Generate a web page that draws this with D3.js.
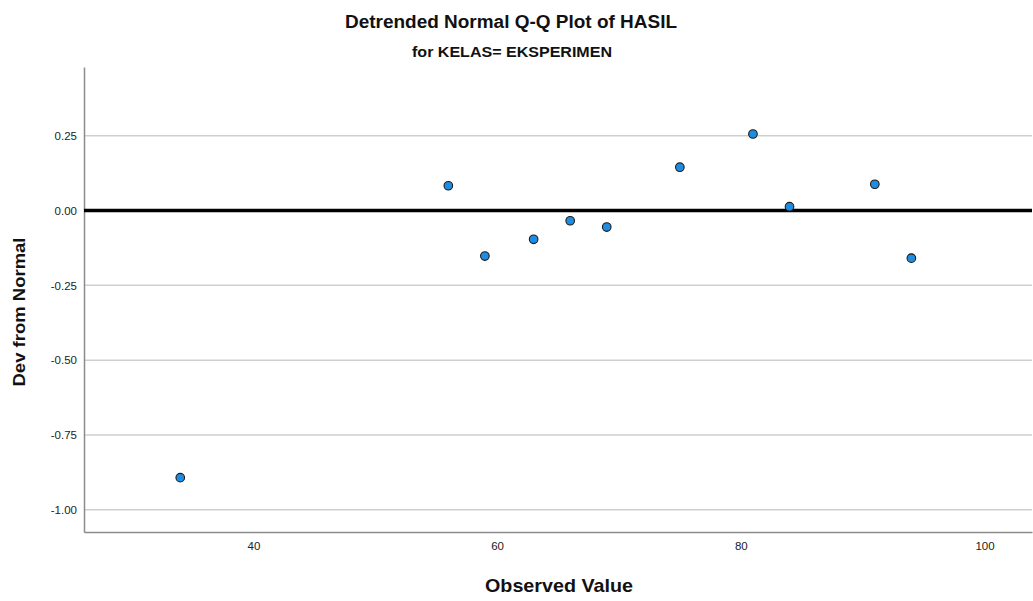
<!DOCTYPE html>
<html><head><meta charset="utf-8">
<script src="https://cdn.jsdelivr.net/npm/d3@7"></script>
<style>body{margin:0;background:#fff}svg{display:block}</style>
</head><body><svg id="c" width="1033" height="601"></svg>
<script>
const observed = [34, 56, 59, 63, 66, 69, 75, 81, 84, 91, 94];
const devFromNormal = [-0.893, 0.083, -0.152, -0.096, -0.034, -0.055, 0.145, 0.256, 0.013, 0.088, -0.159];
const xTicks = [40, 60, 80, 100];
const yTicks = [0.25, 0.00, -0.25, -0.50, -0.75, -1.00];
const titleText = "Detrended Normal Q-Q Plot of HASIL";
const subtitleText = "for KELAS= EKSPERIMEN";
const xLabel = "Observed Value";
const yLabel = "Dev from Normal";

const svg = d3.select("#c");
const L = 84, R = 1032, T = 67, B = 532;
const x = d3.scaleLinear().domain([26.1, 103.9]).range([L, R]);
const y = d3.scaleLinear().domain([-1.0746, 0.48]).range([B, T]);
const fmtY = d => d3.format(".2f")(d).replace("\u2212", "-");

// gridlines
svg.append("g").selectAll("line").data(yTicks.filter(d => d !== 0)).join("line")
  .attr("x1", L).attr("x2", R).attr("y1", d => y(d)).attr("y2", d => y(d))
  .attr("stroke", "#cfcfcf").attr("stroke-width", 1.5);

// axes
const tickFont = "Liberation Sans, Arial, sans-serif";
const yAxis = d3.axisLeft(y).tickValues(yTicks).tickFormat(fmtY).tickSize(0).tickPadding(7);
const gy = svg.append("g").attr("transform", `translate(${L},0)`).call(yAxis);
gy.select(".domain").attr("stroke", "#8c8c8c").attr("stroke-width", 1.5);
gy.selectAll("text").attr("font-family", tickFont).attr("font-size", 11.5).attr("fill", "#222");

const xAxis = d3.axisBottom(x).tickValues(xTicks).tickFormat(d3.format("d")).tickSize(0).tickPadding(10);
const gx = svg.append("g").attr("transform", `translate(0,${B})`).call(xAxis);
gx.select(".domain").attr("stroke", "#8c8c8c").attr("stroke-width", 1.5);
gx.selectAll("text").attr("font-family", tickFont).attr("font-size", 11.5).attr("fill", "#222");

// zero reference line
svg.append("line").attr("x1", L).attr("x2", R).attr("y1", y(0)).attr("y2", y(0))
  .attr("stroke", "#000").attr("stroke-width", 3.5);

// points
svg.append("g").selectAll("circle").data(observed.map((v, i) => [v, devFromNormal[i]])).join("circle")
  .attr("cx", d => x(d[0])).attr("cy", d => y(d[1])).attr("r", 4.3)
  .attr("fill", "#1f8ce0").attr("stroke", "#1a1a1a").attr("stroke-width", 1.1);

// titles
const font = "Liberation Sans, Arial, sans-serif";
function label(t, px, py, size, len, rot) {
  const el = svg.append("text").attr("text-anchor", "middle")
    .attr("font-family", font).attr("font-weight", "bold").attr("font-size", size).attr("fill", "#111")
    .attr("textLength", len).attr("lengthAdjust", "spacingAndGlyphs").text(t);
  if (rot) el.attr("transform", `translate(${px},${py}) rotate(-90)`);
  else el.attr("x", px).attr("y", py);
}
label(titleText, 511, 28, 18, 332);
label(subtitleText, 512, 57, 14, 200);
label(xLabel, 559, 592, 19, 148);
label(yLabel, 25, 312, 17, 149, true);
</script></body></html>
